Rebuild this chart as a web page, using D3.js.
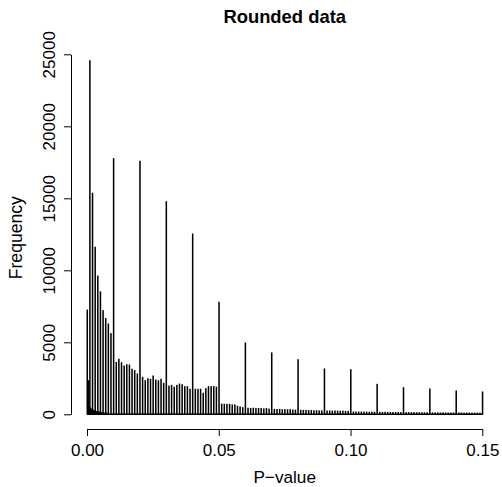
<!DOCTYPE html>
<html>
<head>
<meta charset="utf-8">
<script src="https://cdn.jsdelivr.net/npm/d3@7"></script>
<style>
  html, body { margin: 0; padding: 0; background: #fff; }
  svg { display: block; }
  text { font-family: "Liberation Sans", Arial, Helvetica, sans-serif; fill: #000; }
</style>
</head>
<body>
<svg id="chart" width="502" height="487"></svg>
<script>
// ---- Data ----
const title = "Rounded data";
const xLabel = "P\u2212value";
const yLabel = "Frequency";
const xTicks = [0, 0.05, 0.10, 0.15];
const yTicks = [0, 5000, 10000, 15000, 20000, 25000];

// P-values rounded to 3 decimals: 0.000, 0.001, ..., 0.150
const roundedP = d3.range(0, 151).map(i => +(i / 1000).toFixed(3));
const roundedFreq = [
  7240,
  24550, 15350, 11600, 9600, 8500, 7200, 6650, 6270, 5600,
  17750,
  3600, 3820, 3580, 3350, 3440, 3420, 3130, 3030, 2800,
  17570,
  2570, 2330, 2470, 2430, 2660, 2380, 2330, 2430, 2150,
  14760,
  1960, 2010, 1880, 2010, 2100, 2050, 1920, 1920, 1740,
  12520,
  1740, 1740, 1740, 1460, 1780, 1920, 1920, 1920, 1880,
  7780,
  700, 700, 690, 690, 650, 650, 560, 510, 460,
  4950,
  420, 410, 420, 400, 410, 400, 380, 400, 360,
  4260,
  340, 330, 340, 320, 330, 310, 320, 300, 290,
  3790,
  280, 270, 270, 260, 260, 250, 250, 240, 240,
  3150,
  230, 230, 220, 230, 220, 210, 220, 200, 200,
  3100,
  160, 160, 150, 160, 150, 150, 140, 150, 140,
  2080,
  140, 130, 140, 130, 130, 120, 130, 120, 120,
  1850,
  120, 120, 110, 120, 110, 110, 110, 100, 110,
  1760,
  100, 100, 100, 90, 100, 90, 90, 90, 90,
  1620,
  90, 90, 80, 90, 80, 80, 80, 80, 80,
  1550
];

// Unrounded small P-values (fine bins near zero)
const fineP = [0.0002, 0.0005, 0.0007, 0.0009, 0.0012, 0.0014, 0.0016, 0.0018,
               0.0022, 0.0024, 0.0026, 0.0028, 0.0032, 0.0034, 0.0036, 0.0038,
               0.0042, 0.0044, 0.0046, 0.0048, 0.0052, 0.0056, 0.0062, 0.0068, 0.0074];
const fineFreq = [650, 2330, 520, 460, 420, 380, 340, 310,
                  280, 260, 240, 220, 200, 190, 180, 170,
                  160, 150, 140, 130, 120, 110, 100, 90, 80];

const binWidth = 0.0002;

// ---- Layout ----
const svg = d3.select("#chart");
const x = d3.scaleLinear().domain([0, 0.15]).range([87, 482.3]);
const y = d3.scaleLinear().domain([0, 25000]).range([414.3, 54.3]);
const xAxisY = 429;

const bars = roundedP.map((p, i) => ({ p, f: roundedFreq[i] }))
  .concat(fineP.map((p, i) => ({ p, f: fineFreq[i] })));

// baseline of the (many) empty bins
svg.append("line")
  .attr("x1", x(0)).attr("x2", x(0.15) + 0.5)
  .attr("y1", y(0)).attr("y2", y(0))
  .attr("stroke", "#000").attr("stroke-width", 1.6);

svg.append("g").selectAll("rect")
  .data(bars)
  .join("rect")
  .attr("x", d => x(d.p))
  .attr("width", d => x(d.p + binWidth) - x(d.p))
  .attr("y", d => y(d.f))
  .attr("height", d => y(0) - y(d.f))
  .attr("fill", "none")
  .attr("stroke", "#000")
  .attr("stroke-width", 1);

// ---- Axes ----
const xAxis = d3.axisBottom(x)
  .tickValues(xTicks)
  .tickFormat(d3.format(".2f"))
  .tickSize(7)
  .tickSizeOuter(0)
  .tickPadding(4);

const gx = svg.append("g")
  .attr("transform", `translate(0,${xAxisY})`)
  .call(xAxis);
gx.selectAll("text").attr("font-size", 17).attr("dy", 0).attr("y", 27)
  .style("font-family", "'Liberation Sans', Arial, sans-serif");
gx.selectAll("path,line").attr("stroke", "#000").attr("stroke-width", 1);

const yAxis = d3.axisLeft(y)
  .tickValues(yTicks)
  .tickFormat(d3.format("d"))
  .tickSize(7)
  .tickSizeOuter(0);

const gy = svg.append("g")
  .attr("transform", "translate(71,0)")
  .call(yAxis);
gy.selectAll("text")
  .attr("transform", "rotate(-90)")
  .attr("x", 0).attr("y", -16).attr("dy", 0)
  .attr("text-anchor", "middle")
  .attr("font-size", 17)
  .style("font-family", "'Liberation Sans', Arial, sans-serif");
gy.selectAll("path,line").attr("stroke", "#000").attr("stroke-width", 1);

// ---- Titles ----
svg.append("text")
  .attr("x", 284.7).attr("y", 23)
  .attr("text-anchor", "middle")
  .attr("font-size", 18.4).attr("font-weight", "bold")
  .text(title);

svg.append("text")
  .attr("x", 284.7).attr("y", 482.5)
  .attr("text-anchor", "middle")
  .attr("font-size", 17.2)
  .text(xLabel);

svg.append("text")
  .attr("transform", "translate(21.5,237.7) rotate(-90)")
  .attr("text-anchor", "middle")
  .attr("font-size", 17.6)
  .text(yLabel);
</script>
</body>
</html>
